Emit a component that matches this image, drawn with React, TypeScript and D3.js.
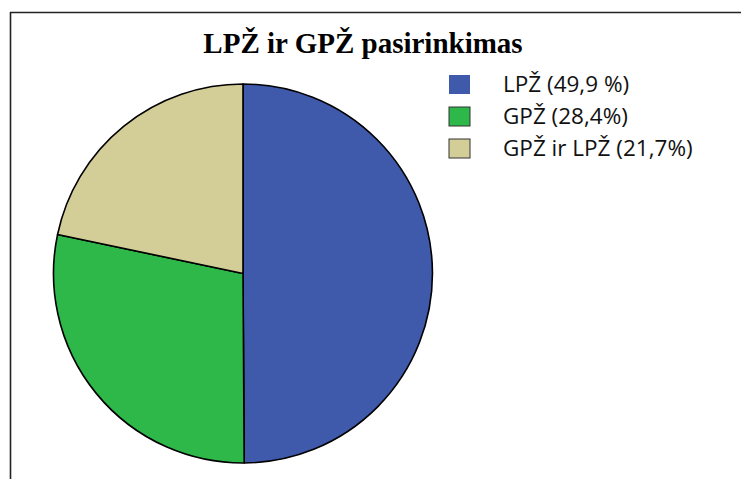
import { arc, pie, PieArcDatum } from "d3";

const categories = ["LPŽ (49,9 %)", "GPŽ (28,4%)", "GPŽ ir LPŽ (21,7%)"];
const shares = [49.9, 28.4, 21.7];
const colors = ["#3f59ab", "#2fb84a", "#d3ce98"];
const chartTitle = "LPŽ ir GPŽ pasirinkimas";

type Slice = { label: string; value: number; color: string };

export default function App() {
  const width = 741;
  const height = 479;
  const cx = 243;
  const cy = 273.5;
  const radius = 189.5;

  const slices: Slice[] = categories.map((label, i) => ({
    label,
    value: shares[i],
    color: colors[i],
  }));

  const layout = pie<Slice>()
    .sort(null)
    .value((d) => d.value)
    .startAngle(0)
    .endAngle(Math.PI * 2);

  const arcs = layout(slices);
  const slicePath = arc<PieArcDatum<Slice>>().innerRadius(0).outerRadius(radius);

  const legend = { x: 449, y: 75, step: 32, box: 21, textX: 503 };

  return (
    <svg
      width={width}
      height={height}
      viewBox={`0 0 ${width} ${height}`}
      style={{ position: "absolute", left: 0, top: 0, background: "#fff" }}
    >
      {/* frame: top and left edges only are visible */}
      <line x1={10} x2={width} y1={12.5} y2={12.5} stroke="#222" strokeWidth={1.6} />
      <line x1={10.5} x2={10.5} y1={12} y2={height} stroke="#222" strokeWidth={1.6} />

      <text
        x={363}
        y={53}
        textAnchor="middle"
        fontFamily="'Liberation Serif', 'Times New Roman', serif"
        fontWeight="bold"
        fontSize={29}
        fill="#000"
      >
        {chartTitle}
      </text>

      <g transform={`translate(${cx},${cy})`}>
        {arcs.map((a) => (
          <path
            key={a.data.label}
            d={slicePath(a) ?? ""}
            fill={a.data.color}
            stroke="#000"
            strokeWidth={1.6}
            strokeLinejoin="round"
          />
        ))}
      </g>

      <g>
        {slices.map((s, i) => (
          <g key={s.label}>
            <rect
              x={legend.x}
              y={legend.y + i * legend.step}
              width={legend.box}
              height={legend.box - 2}
              fill={s.color}
              stroke={i === 0 ? "none" : "#333"}
              strokeWidth={1}
            />
            <text
              x={legend.textX}
              y={legend.y + i * legend.step + 16.5}
              fontFamily="'Open Sans', 'Noto Sans', sans-serif"
              fontSize={22.5}
              fill="#111"
            >
              {s.label}
            </text>
          </g>
        ))}
      </g>
    </svg>
  );
}
